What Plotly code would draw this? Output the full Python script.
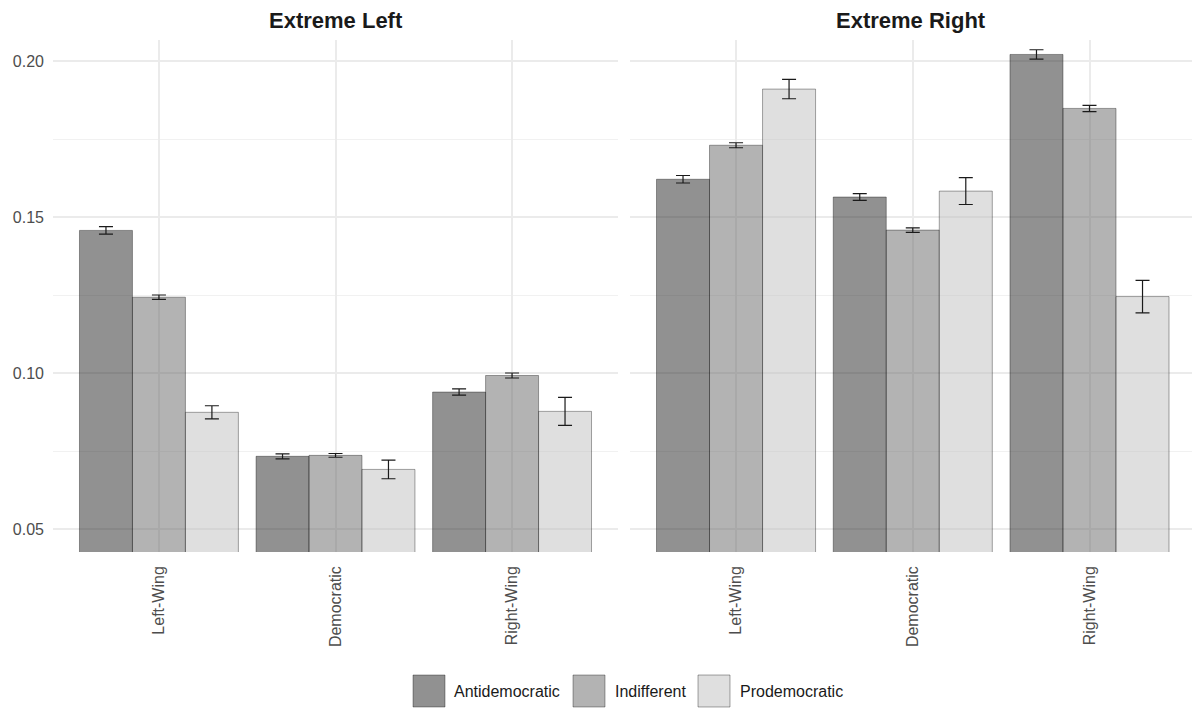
import plotly.graph_objects as go

# Party family categories on the x axis
categories = ["Left-Wing", "Democratic", "Right-Wing"]
groups = ["Antidemocratic", "Indifferent", "Prodemocratic"]

# Extreme Left panel: means and standard errors
left_anti = [0.1457, 0.0733, 0.0939]
left_indiff = [0.1243, 0.0736, 0.0992]
left_pro = [0.0874, 0.0691, 0.0877]
left_anti_se = [0.0012, 0.0008, 0.0010]
left_indiff_se = [0.0007, 0.0006, 0.0008]
left_pro_se = [0.0021, 0.0030, 0.0045]

# Extreme Right panel: means and standard errors
right_anti = [0.1621, 0.1564, 0.2021]
right_indiff = [0.1730, 0.1458, 0.1848]
right_pro = [0.1910, 0.1583, 0.1245]
right_anti_se = [0.0012, 0.0011, 0.0015]
right_indiff_se = [0.0008, 0.0007, 0.0010]
right_pro_se = [0.0031, 0.0043, 0.0052]

panel_titles = ["Extreme Left", "Extreme Right"]
y_ticks = [0.05, 0.10, 0.15, 0.20]
y_tick_text = ["0.05", "0.10", "0.15", "0.20"]

fills = {
    "Antidemocratic": "rgba(35,35,35,0.5)",
    "Indifferent": "rgba(103,103,103,0.5)",
    "Prodemocratic": "rgba(191,191,191,0.5)",
}
outline = "rgba(0,0,0,0.35)"

W, H = 1192, 708
ML, MR, MT, MB = 53, 0, 40, 156
PW, PH = W - ML - MR, H - MT - MB


def px_x(p):
    return (p - ML) / PW


def px_y(p):
    return (H - MB - p) / PH


FONT = "Liberation Sans, Arial, Helvetica, sans-serif"
TICK_FONT = dict(family=FONT, size=16, color="#4d4d4d")

fig = go.Figure()

panels = [
    ("x", [left_anti, left_indiff, left_pro], [left_anti_se, left_indiff_se, left_pro_se]),
    ("x2", [right_anti, right_indiff, right_pro], [right_anti_se, right_indiff_se, right_pro_se]),
]
for xa, series, errs in panels:
    for name, vals, se in zip(groups, series, errs):
        fig.add_trace(go.Bar(
            x=categories, y=vals, name=name, xaxis=xa, yaxis="y",
            offsetgroup=name, showlegend=False,
            marker=dict(color=fills[name], line=dict(color=outline, width=1)),
            error_y=dict(type="data", array=se, visible=True,
                         color="#1a1a1a", thickness=1.2, width=7),
        ))

yaxis_common = dict(
    range=[0.04263, 0.20673], tickvals=y_ticks, ticktext=y_tick_text,
    showgrid=True, gridcolor="#ebebeb", gridwidth=2, zeroline=False,
    showline=False, ticks="", ticklabelstandoff=8,
    minor=dict(tickvals=[0.075, 0.125, 0.175], showgrid=True,
               gridcolor="#f1f1f1", gridwidth=1),
    tickfont=TICK_FONT,
)
xaxis_common = dict(
    type="category", range=[-0.6, 2.6], showgrid=True, gridcolor="#ebebeb",
    gridwidth=2, zeroline=False, showline=False, ticks="", tickangle=-90,
    ticklabelstandoff=10, tickfont=TICK_FONT,
)

left_end = px_x(618)
right_start = px_x(630)
fig.update_layout(
    width=W, height=H,
    margin=dict(l=ML, r=MR, t=MT, b=MB),
    paper_bgcolor="white", plot_bgcolor="white",
    barmode="group", bargap=0.1, bargroupgap=0,
    xaxis=dict(domain=[0, left_end], **xaxis_common),
    xaxis2=dict(domain=[right_start, 1], **{**xaxis_common, "range": [-0.6, 2.58]}),
    yaxis=dict(anchor="x", **yaxis_common),
    yaxis2=dict(anchor="x2", overlaying="y", matches="y", showticklabels=False,
                **{k: v for k, v in yaxis_common.items() if k not in ("tickvals", "ticktext")},
                tickvals=y_ticks),
    showlegend=False,
)

# Panel strip titles
for title, cx in zip(panel_titles, [px_x(335.5), px_x(911)]):
    fig.add_annotation(x=cx, y=px_y(20.5), xref="paper", yref="paper",
                       text="<b>%s</b>" % title, showarrow=False,
                       font=dict(family=FONT, size=22, color="#1a1a1a"),
                       xanchor="center", yanchor="middle")

# Legend drawn below the panels with large key boxes
key_left = [413, 573, 698]
label_left = [454, 615, 740]
key_size = 32
key_mid = 691
for name, kx, lx in zip(groups, key_left, label_left):
    fig.add_shape(type="rect", xref="paper", yref="paper",
                  x0=px_x(kx), x1=px_x(kx + key_size),
                  y0=px_y(key_mid + key_size / 2), y1=px_y(key_mid - key_size / 2),
                  fillcolor=fills[name], line=dict(color=outline, width=1))
    fig.add_annotation(x=px_x(lx), y=px_y(key_mid), xref="paper", yref="paper",
                       text=name, showarrow=False, xanchor="left", yanchor="middle",
                       xshift=-2,
                       font=dict(family=FONT, size=16, color="#1a1a1a"))

fig.write_html("out.html")
